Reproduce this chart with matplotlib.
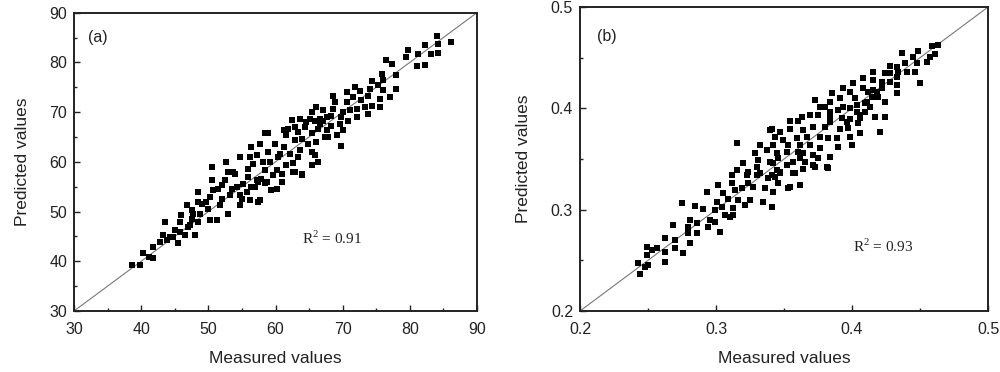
import numpy as np
import matplotlib
matplotlib.use("Agg")
import matplotlib.pyplot as plt
from matplotlib.ticker import MultipleLocator

plt.rcParams['font.family'] = ['Liberation Sans', 'DejaVu Sans']

# panel (a): measured / predicted pairs
a_measured = [
    38.6, 39.8, 40.3, 41.1, 41.7, 41.8, 42.8, 43.3, 43.5, 43.8, 44.3, 45.0, 45.5, 45.8,
    46.0, 46.5, 46.8, 47.3, 47.5, 47.5, 48.0, 48.5, 48.5, 48.5, 49.0, 50.0, 50.2, 50.2,
    50.5, 50.6, 51.3, 51.5, 51.7, 52.0, 52.5, 52.7, 53.0, 53.0, 53.2, 53.5, 54.0, 54.2,
    54.7, 54.7, 54.7, 55.2, 55.7, 55.9, 55.9, 56.2, 56.4, 56.7, 56.9, 57.2, 57.4, 57.7,
    57.7, 57.9, 58.2, 58.4, 58.4, 58.7, 58.9, 58.9, 59.2, 59.4, 59.7, 59.9, 60.2, 60.2,
    60.4, 44.8, 45.8, 47.0, 47.7, 48.8, 49.7, 50.7, 52.0, 53.7, 55.0, 56.2, 56.4, 57.4,
    58.4, 57.2,
    84.0, 86.2, 84.2, 82.2, 81.2, 83.2, 84.2, 79.7, 79.5, 81.0, 82.2, 76.4, 77.3, 75.8,
    76.0, 78.0, 74.3, 74.0, 75.3, 76.0, 78.0, 71.8, 72.6, 70.6, 73.8, 71.6, 68.6, 68.8,
    72.8, 70.6, 75.5, 77.0, 74.3, 73.3, 75.5, 72.1, 71.1, 70.1, 66.1, 67.1, 68.6, 73.8,
    72.1, 70.8, 69.8, 68.3, 67.6, 66.6, 65.4, 65.1, 62.4, 63.6, 64.6, 65.9, 67.1, 66.6,
    69.6, 68.3, 70.1, 69.1, 67.6, 66.4, 64.4, 62.9, 61.9, 61.2, 63.4, 65.4, 67.4, 67.8,
    61.6, 63.9, 62.9, 66.1, 64.9, 69.8, 61.2, 63.6, 65.4, 62.1, 60.7, 65.9, 63.4, 66.4,
    62.6, 65.4, 61.6, 63.9, 62.9, 60.9, 60.9, 62.6, 63.9,
]
a_predicted = [
    39.2, 39.2, 41.7, 40.9, 42.9, 40.6, 43.9, 45.3, 47.9, 44.2, 44.9, 46.3, 43.6, 47.9,
    49.3, 45.3, 51.3, 47.3, 48.6, 50.3, 45.3, 47.9, 54.0, 52.0, 51.6, 50.6, 53.0, 48.3,
    56.3, 58.9, 48.3, 54.6, 51.3, 52.6, 56.3, 60.0, 58.0, 49.6, 53.3, 54.6, 57.6, 55.0,
    61.0, 53.3, 51.3, 55.6, 54.0, 58.6, 56.9, 61.0, 63.0, 59.6, 55.0, 61.3, 56.0, 63.6,
    52.3, 56.6, 60.0, 58.3, 65.7, 56.0, 65.7, 62.0, 60.0, 54.3, 57.3, 63.6, 58.3, 54.6,
    61.0, 44.9, 45.9, 46.9, 49.6, 49.6, 52.0, 54.3, 55.3, 58.0, 52.6, 52.3, 55.0, 52.0,
    55.7, 56.3,
    85.4, 84.0, 83.6, 83.4, 81.7, 81.7, 81.8, 82.4, 81.1, 79.2, 79.4, 80.4, 79.7, 77.7,
    76.5, 77.4, 76.3, 74.7, 75.4, 74.4, 74.7, 75.0, 74.2, 74.0, 73.3, 73.1, 73.3, 72.0,
    72.4, 72.0, 72.7, 73.0, 71.3, 71.0, 71.1, 70.7, 70.4, 70.0, 71.1, 70.5, 70.7, 69.6,
    69.0, 68.3, 69.1, 69.3, 69.0, 68.7, 70.0, 68.7, 68.5, 68.7, 68.0, 68.3, 68.3, 67.6,
    67.6, 67.3, 66.3, 65.3, 66.3, 66.6, 67.0, 67.1, 66.5, 66.3, 66.0, 65.7, 65.0, 65.0,
    65.3, 64.6, 64.3, 64.0, 63.6, 63.1, 63.0, 62.3, 62.0, 61.6, 61.6, 61.3, 61.0, 60.0,
    59.8, 59.3, 59.3, 57.5, 58.0, 57.6, 56.0, 58.0, 57.3,
]

# panel (b)
b_measured = [
    0.2441, 0.2429, 0.2478, 0.2502, 0.2495, 0.2495, 0.2527, 0.2564, 0.2625, 0.2625, 0.2699,
    0.2699, 0.2625, 0.2686, 0.2760, 0.2748, 0.2796, 0.2809, 0.2796, 0.2809, 0.2846, 0.2858,
    0.2858, 0.2907, 0.2931, 0.2944, 0.2956, 0.2993, 0.2993, 0.3005, 0.3017, 0.3029, 0.3042,
    0.3054, 0.3066, 0.3091, 0.3103, 0.3127, 0.3115, 0.3127, 0.3140, 0.3164, 0.3189, 0.3213,
    0.3225, 0.3238, 0.3250, 0.3274, 0.3324, 0.3348, 0.3360, 0.3385, 0.3409, 0.3421,
    0.3152, 0.3397, 0.3324, 0.3373, 0.3287, 0.3311, 0.3201, 0.3152, 0.3238, 0.3115, 0.3299,
    0.3397, 0.3299, 0.3434, 0.3532, 0.3458, 0.3544, 0.3618, 0.3471, 0.3568, 0.3814, 0.3716,
    0.4635, 0.4586, 0.4610, 0.4574, 0.4549, 0.4488, 0.4451, 0.4476, 0.4365, 0.4390, 0.4402,
    0.4463, 0.4500, 0.4329, 0.4279, 0.4341, 0.4279, 0.4243, 0.4157, 0.4329, 0.4279, 0.4218,
    0.4157, 0.4083, 0.4329, 0.4218, 0.4329, 0.4010, 0.4157, 0.4083, 0.4120, 0.4181, 0.4194,
    0.3936, 0.3985, 0.4145, 0.3851, 0.4243, 0.3912, 0.4022, 0.4108, 0.3728, 0.3838, 0.3936,
    0.3985, 0.4034, 0.4096, 0.4132, 0.3765, 0.3801, 0.3899, 0.3838, 0.4034, 0.4096, 0.3691,
    0.3752, 0.3630, 0.3838, 0.3924, 0.3985, 0.4059, 0.4059, 0.4169, 0.4243, 0.3544, 0.3605,
    0.3838, 0.3961, 0.4047, 0.3716, 0.3642, 0.3801, 0.3912, 0.3974, 0.4059, 0.4206, 0.3409,
    0.3471, 0.3544, 0.3434, 0.3495, 0.3593, 0.3667, 0.3765, 0.3826, 0.3887, 0.3985, 0.3691,
    0.3618, 0.3532, 0.3421, 0.3899, 0.3998, 0.3765, 0.3605, 0.3642, 0.3520, 0.3446, 0.3716,
    0.3838, 0.3752, 0.3618, 0.3568, 0.3458, 0.3654, 0.3421, 0.3520, 0.3728, 0.3826, 0.3642,
    0.3446, 0.3471, 0.3581, 0.3409,
]
b_predicted = [
    0.2365, 0.2471, 0.2437, 0.2454, 0.2553, 0.2635, 0.2602, 0.2619, 0.2585, 0.2487, 0.2619,
    0.2701, 0.2717, 0.2849, 0.2576, 0.3063, 0.2767, 0.2898, 0.2832, 0.2668, 0.3036, 0.2767,
    0.2866, 0.3004, 0.3178, 0.2832, 0.2898, 0.2997, 0.2881, 0.3079, 0.3243, 0.2783, 0.3030,
    0.3162, 0.2947, 0.3102, 0.2931, 0.2947, 0.3260, 0.3013, 0.3194, 0.3095, 0.3211, 0.3046,
    0.3342, 0.3260, 0.3095, 0.3227, 0.3359, 0.3079, 0.3211, 0.3309, 0.3030, 0.3178,
    0.3655, 0.3786, 0.3638, 0.3589, 0.3556, 0.3490, 0.3458, 0.3392, 0.3375, 0.3342, 0.3425,
    0.3474, 0.3342, 0.3326, 0.3211, 0.3260, 0.3227, 0.3243, 0.3359, 0.3359, 0.3425, 0.3441,
    0.4625, 0.4615, 0.4536, 0.4510, 0.4460, 0.4569, 0.4503, 0.4444, 0.4549, 0.4451, 0.4362,
    0.4362, 0.4247, 0.4405, 0.4422, 0.4362, 0.4346, 0.4352, 0.4362, 0.4313, 0.4264, 0.4264,
    0.4280, 0.4297, 0.4231, 0.4198, 0.4148, 0.4254, 0.4181, 0.4198, 0.4164, 0.4164, 0.4115,
    0.4198, 0.4164, 0.4115, 0.4148, 0.4066, 0.4099, 0.4099, 0.4066, 0.4082, 0.4066, 0.4016,
    0.4000, 0.4033, 0.4050, 0.4016, 0.4016, 0.4016, 0.3984, 0.3967, 0.3967, 0.3967, 0.3934,
    0.3934, 0.3918, 0.3918, 0.3902, 0.3892, 0.3934, 0.3902, 0.3912, 0.3918, 0.3878, 0.3878,
    0.3868, 0.3868, 0.3852, 0.3819, 0.3786, 0.3819, 0.3792, 0.3802, 0.3754, 0.3770, 0.3792,
    0.3769, 0.3792, 0.3720, 0.3687, 0.3703, 0.3720, 0.3720, 0.3703, 0.3703, 0.3720, 0.3638,
    0.3638, 0.3638, 0.3638, 0.3622, 0.3638, 0.3605, 0.3572, 0.3556, 0.3572, 0.3556, 0.3540,
    0.3523, 0.3507, 0.3507, 0.3474, 0.3507, 0.3474, 0.3458, 0.3441, 0.3425, 0.3408, 0.3398,
    0.3392, 0.3375, 0.3359, 0.3342,
]

panels = [
    dict(x=a_measured, y=a_predicted, lim=(30, 90), major=10, minor=5, tag='(a)',
         r2='R$^{2}$ = 0.91', r2pos=(64.0, 44.6), tagpos=(0.035, 0.917),
         rect=[0.074, 0.164, 0.403, 0.802]),
    dict(x=b_measured, y=b_predicted, lim=(0.2, 0.5), major=0.1, minor=0.05, tag='(b)',
         r2='R$^{2}$ = 0.93', r2pos=(0.401, 0.2634), tagpos=(0.041, 0.902),
         rect=[0.580, 0.164, 0.408, 0.817]),
]

plt.rcParams['mathtext.fontset'] = 'custom'
plt.rcParams['mathtext.rm'] = 'Liberation Serif'

fig = plt.figure(figsize=(10, 3.72), dpi=100)
ink = '#222222'
for p in panels:
    ax = fig.add_axes(p['rect'])
    lo, hi = p['lim']
    ax.plot([lo, hi], [lo, hi], color='#777777', lw=0.8, zorder=1)
    ax.scatter(p['x'], p['y'], marker='s', s=14, color='black', linewidths=0, zorder=2)
    ax.set_xlim(lo, hi)
    ax.set_ylim(lo, hi)
    for axis in (ax.xaxis, ax.yaxis):
        axis.set_major_locator(MultipleLocator(p['major']))
        axis.set_minor_locator(MultipleLocator(p['minor']))
    ax.tick_params(which='both', direction='in', top=False, right=False,
                   width=1, color=ink, labelcolor=ink, labelsize=11.5)
    ax.tick_params(which='major', length=4)
    ax.tick_params(which='minor', length=2.5)
    ax.tick_params(axis='x', pad=8)
    ax.tick_params(axis='y', pad=5)
    for s in ax.spines.values():
        s.set_linewidth(1.4)
        s.set_color(ink)
    ax.set_xlabel('Measured values', fontsize=12.5, color=ink, labelpad=10)
    ax.set_ylabel('Predicted values', fontsize=12.5, color=ink, labelpad=14)
    ax.text(*p['tagpos'], p['tag'], transform=ax.transAxes, fontsize=11.5, color=ink,
            va='center', ha='left')
    ax.text(*p['r2pos'], p['r2'], fontsize=11, color=ink, va='center', ha='left',
            family='Liberation Serif')

fig.savefig('out.png', dpi=100)
